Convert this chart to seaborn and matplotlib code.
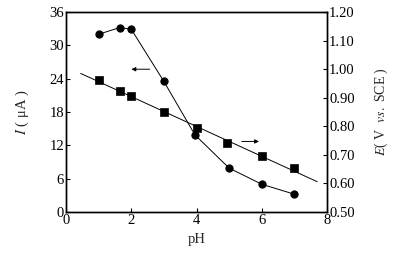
import matplotlib
matplotlib.use("Agg")
import matplotlib.pyplot as plt
import seaborn as sns
import pandas as pd

# Data
ph_I = [1.0, 1.65, 2.0, 3.0, 3.95, 5.0, 6.0, 7.0]
current_uA = [32.0, 33.2, 32.9, 23.5, 13.9, 7.9, 5.0, 3.2]

ph_E = [1.0, 1.65, 2.0, 3.0, 4.0, 4.95, 6.0, 7.0]
potential_V = [0.962, 0.923, 0.907, 0.850, 0.795, 0.743, 0.697, 0.655]

fit_ph = [0.45, 7.7]
fit_E = [0.985, 0.606]

x_ticks = [0, 2, 4, 6, 8]
left_ticks = [0, 6, 12, 18, 24, 30, 36]
right_ticks = [0.50, 0.60, 0.70, 0.80, 0.90, 1.00, 1.10, 1.20]

sns.set_theme(style="ticks")
plt.rcParams['font.family'] = ['Liberation Serif', 'DejaVu Serif']
plt.rcParams['mathtext.fontset'] = 'stix'

fig = plt.figure(figsize=(4.11, 2.65), dpi=100)
ax = fig.add_axes([66/411, 1-212/265, (327-66)/411, (212-12)/265])
ax2 = ax.twinx()

dI = pd.DataFrame({"pH": ph_I, "I": current_uA})
dE = pd.DataFrame({"pH": ph_E, "E": potential_V})
dF = pd.DataFrame({"pH": fit_ph, "E": fit_E})

sns.lineplot(data=dI, x="pH", y="I", ax=ax, color="black", lw=0.7,
             marker="o", markersize=5.2, markeredgecolor="black", legend=False)
sns.lineplot(data=dF, x="pH", y="E", ax=ax2, color="black", lw=0.7, legend=False)
sns.scatterplot(data=dE, x="pH", y="E", ax=ax2, color="black", marker="s",
                s=36, edgecolor="black", legend=False, zorder=5)

ax.set_xlim(0, 8)
ax.set_ylim(0, 36)
ax2.set_ylim(0.5, 1.2)
ax.set_xticks(x_ticks)
ax.set_yticks(left_ticks)
ax2.set_yticks(right_ticks)
ax2.set_yticklabels([f"{v:.2f}" for v in right_ticks])

for a in (ax, ax2):
    for s in a.spines.values():
        s.set_linewidth(1.0)
        s.set_color("black")
    a.tick_params(direction="in", length=3, width=0.8, labelsize=10.5,
                  colors="black", pad=1.5)

ax.set_xlabel("pH", fontsize=10.5, labelpad=4)
ax.set_ylabel(r"$I$ ( μA )", fontsize=10.5, labelpad=13)
ax2.set_ylabel(r"$E$( V  $vs.$ SCE )", fontsize=10, labelpad=13)

ax.annotate("", xy=(1.92, 25.7), xytext=(2.65, 25.7),
            arrowprops=dict(arrowstyle="-|>", color="black", lw=0.7,
                            mutation_scale=6))
ax.annotate("", xy=(6.0, 12.7), xytext=(5.3, 12.7),
            arrowprops=dict(arrowstyle="-|>", color="black", lw=0.7,
                            mutation_scale=6))

fig.savefig("out.png", dpi=100)
